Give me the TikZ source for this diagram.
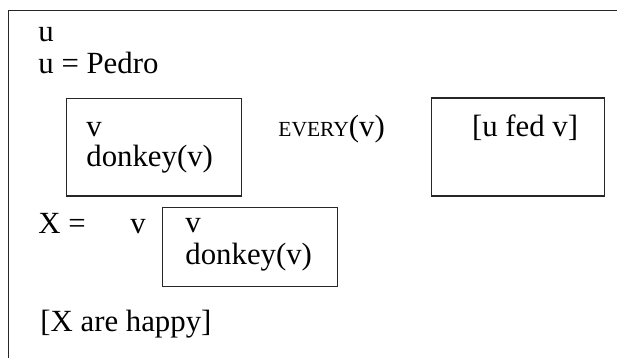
\documentclass[tikz,border=0pt]{standalone}
\usepackage{fontspec}
\setmainfont{Liberation Serif}
\begin{document}
\begin{tikzpicture}[x=0.5pt,y=-0.5pt,
  txt/.style={anchor=base west,inner sep=0pt,font=\fontsize{15.4}{18}\selectfont},
  drsbox/.style={draw=black!85,line width=0.6pt,inner sep=0pt}]
\useasboundingbox (0,0) rectangle (617,358);
\clip (0,0) rectangle (617,358);
% outer box (runs past the right and bottom edges)
\node[drsbox,minimum width=350pt,minimum height=200pt,anchor=north west] (outer) at (8,10) {};
% universe and conditions of the main box
\node[txt] (u1) at (38,41.7) {u};
\node[txt] (u2) at (38,74) {u = Pedro};
% conditional: antecedent box, quantifier, consequent box
\node[drsbox,minimum width=87.5pt,minimum height=48.85pt] (ante) at (154.2,147.2) {};
\node[txt] (av) at (86,136.7) {v};
\node[txt] (ad) at (86,167) {donkey(v)};
\node[txt] (every) at (278,136.7) {{\fontsize{10.75}{12}\selectfont EVERY}(v)};
\node[drsbox,minimum width=86.3pt,minimum height=49pt] (cons) at (518,147) {};
\node[txt] (fed) at (471.7,137) {[u fed v]};
% summation
\node[txt] (X) at (38,234) {X =};
\node[txt] (sv) at (130,234) {v};
\node[drsbox,minimum width=87.7pt,minimum height=39.7pt] (sum) at (250,247) {};
\node[txt] (sv2) at (185,233) {v};
\node[txt] (sd) at (185,265) {donkey(v)};
\node[txt] (happy) at (40,331.7) {[X are happy]};
\end{tikzpicture}
\end{document}
